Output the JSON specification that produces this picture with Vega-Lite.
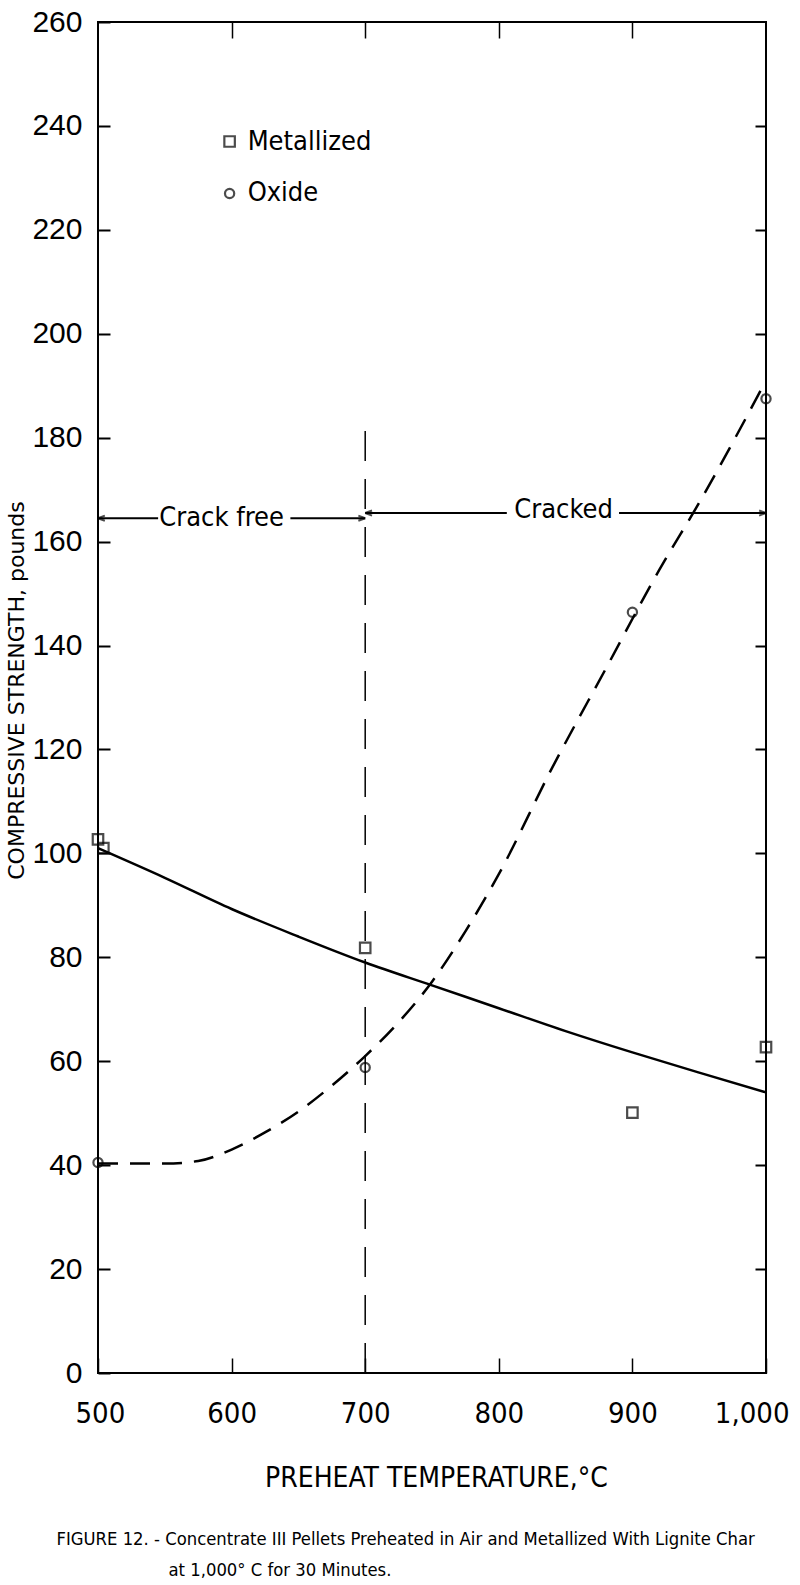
{
  "$schema": "https://vega.github.io/schema/vega-lite/v6.json",
  "width": 668,
  "height": 1351,
  "autosize": "none",
  "padding": {"left": 98, "top": 22, "right": 34, "bottom": 212},
  "background": "white",
  "config": {
    "view": {"stroke": "black", "strokeWidth": 2},
    "axis": {"domainColor": "black", "tickColor": "black", "labelColor": "black", "titleColor": "black", "grid": false}
  },
  "layer": [
    {
      "data": {"values": [
        {"t": 500, "s": 101}, {"t": 550, "s": 95.3}, {"t": 600, "s": 89.3}, {"t": 650, "s": 84},
        {"t": 700, "s": 79}, {"t": 750, "s": 74.6}, {"t": 800, "s": 70.2}, {"t": 850, "s": 65.8},
        {"t": 900, "s": 61.7}, {"t": 950, "s": 57.8}, {"t": 1000, "s": 54}
      ]},
      "mark": {"type": "line", "color": "black", "strokeWidth": 2.5, "interpolate": "monotone"},
      "encoding": {
        "x": {"field": "t", "type": "quantitative", "scale": {"domain": [500, 1000], "nice": false, "zero": false},
          "axis": {"orient": "bottom", "values": [500, 600, 700, 800, 900, 1000], "format": ",.0f", "tickSize": -15, "tickWidth": 1.5,
            "domain": false, "labelFlush": true, "labelFlushOffset": 23, "labelOverlap": false,
            "labelFont": "Liberation Sans Narrow, DejaVu Sans Condensed, sans-serif", "labelFontSize": 29, "labelPadding": 41,
            "title": "PREHEAT TEMPERATURE,°C", "titleFont": "Liberation Sans Narrow, DejaVu Sans Condensed, sans-serif",
            "titleFontSize": 28, "titleFontWeight": "normal", "titleX": 338, "titleY": 91, "titleBaseline": "top"}},
        "y": {"field": "s", "type": "quantitative", "scale": {"domain": [0, 260], "nice": false},
          "axis": {"orient": "left", "values": [0, 20, 40, 60, 80, 100, 120, 140, 160, 180, 200, 220, 240, 260], "tickSize": -12, "tickWidth": 2,
            "domain": false, "labelFlush": false, "labelOverlap": false,
            "labelFont": "Liberation Sans, Arial, sans-serif", "labelFontSize": 30, "labelPadding": 28,
            "title": "COMPRESSIVE STRENGTH, pounds", "titleFont": "DejaVu Sans", "titleFontSize": 22, "titleFontWeight": "normal",
            "titleX": -75, "titleY": 668, "titleBaseline": "alphabetic"}}
      }
    },
    {
      "data": {"values": [
        {"t": 500, "s": 40.3}, {"t": 550, "s": 40.3}, {"t": 575, "s": 40.8}, {"t": 600, "s": 43}, {"t": 625, "s": 46.3},
        {"t": 650, "s": 50.3}, {"t": 675, "s": 55.3}, {"t": 700, "s": 61}, {"t": 725, "s": 67.5}, {"t": 750, "s": 75.3},
        {"t": 775, "s": 85}, {"t": 800, "s": 96}, {"t": 840, "s": 116.5}, {"t": 880, "s": 135.5}, {"t": 920, "s": 154.5},
        {"t": 950, "s": 167.5}, {"t": 1000, "s": 191}
      ]},
      "mark": {"type": "line", "color": "black", "strokeWidth": 2.5, "interpolate": "monotone", "strokeDash": [20, 12]},
      "encoding": {
        "x": {"field": "t", "type": "quantitative", "scale": {"domain": [500, 1000], "nice": false, "zero": false},
          "axis": {"orient": "top", "values": [600, 700, 800, 900], "labels": false, "tickSize": -16, "tickWidth": 1.5, "domain": false,
            "title": "FIGURE 12. - Concentrate III Pellets Preheated in Air and Metallized With Lignite Char",
            "titleFont": "Liberation Sans Narrow, DejaVu Sans Condensed, sans-serif", "titleFontSize": 18.3, "titleFontWeight": "normal",
            "titleX": -42, "titleY": 1522, "titleAlign": "left", "titleBaseline": "alphabetic", "titleAngle": 0}},
        "y": {"field": "s", "type": "quantitative", "scale": {"domain": [0, 260], "nice": false},
          "axis": {"orient": "right", "values": [20, 40, 60, 80, 100, 120, 140, 160, 180, 200, 220, 240], "labels": false, "tickSize": -11, "tickWidth": 2, "domain": false,
            "title": "at 1,000° C for 30 Minutes.",
            "titleFont": "Liberation Sans Narrow, DejaVu Sans Condensed, sans-serif", "titleFontSize": 18.3, "titleFontWeight": "normal",
            "titleX": -598, "titleY": 1553, "titleAlign": "left", "titleBaseline": "alphabetic", "titleAngle": 0}}
      }
    },
    {
      "data": {"values": [{"t": 700, "a": 0, "b": 182}]},
      "mark": {"type": "rule", "color": "black", "strokeWidth": 1.5, "strokeDash": [30, 18]},
      "encoding": {
        "x": {"field": "t", "type": "quantitative", "axis": null},
        "y": {"field": "a", "type": "quantitative", "axis": null},
        "y2": {"field": "b"}
      }
    },
    {
      "data": {"values": [
        {"a": 500, "b": 545, "y": 164.5}, {"a": 644, "b": 700, "y": 164.5},
        {"a": 700, "b": 806, "y": 165.5}, {"a": 890, "b": 1000, "y": 165.5}
      ]},
      "mark": {"type": "rule", "color": "black", "strokeWidth": 2},
      "encoding": {
        "x": {"field": "a", "type": "quantitative", "axis": null},
        "x2": {"field": "b"},
        "y": {"field": "y", "type": "quantitative", "axis": null}
      }
    },
    {
      "data": {"values": [{"t": 500, "y": 164.5}, {"t": 700, "y": 165.5}]},
      "mark": {"type": "point", "shape": "M0,0L1.2,-0.45M0,0L1.2,0.45", "filled": false, "color": "black", "strokeWidth": 2, "size": 130},
      "encoding": {
        "x": {"field": "t", "type": "quantitative", "axis": null},
        "y": {"field": "y", "type": "quantitative", "axis": null}
      }
    },
    {
      "data": {"values": [{"t": 700, "y": 164.5}, {"t": 1000, "y": 165.5}]},
      "mark": {"type": "point", "shape": "M0,0L-1.2,-0.45M0,0L-1.2,0.45", "filled": false, "color": "black", "strokeWidth": 2, "size": 130},
      "encoding": {
        "x": {"field": "t", "type": "quantitative", "axis": null},
        "y": {"field": "y", "type": "quantitative", "axis": null}
      }
    },
    {
      "data": {"values": [{"t": 592.5, "y": 164.5, "label": "Crack free"}, {"t": 848.5, "y": 166, "label": "Cracked"}]},
      "mark": {"type": "text", "color": "black", "font": "Liberation Sans Narrow, DejaVu Sans Condensed, sans-serif", "fontSize": 27, "align": "center", "baseline": "middle"},
      "encoding": {
        "x": {"field": "t", "type": "quantitative", "axis": null},
        "y": {"field": "y", "type": "quantitative", "axis": null},
        "text": {"field": "label"}
      }
    },
    {
      "data": {"values": [
        {"t": 500, "v": 102.7}, {"t": 504, "v": 101}, {"t": 700, "v": 81.8}, {"t": 900, "v": 50.1}, {"t": 1000, "v": 62.7},
        {"t": 598.5, "v": 237}
      ]},
      "mark": {"type": "point", "shape": "square", "filled": false, "color": "black", "strokeWidth": 2.2, "size": 110},
      "encoding": {
        "x": {"field": "t", "type": "quantitative", "axis": null},
        "y": {"field": "v", "type": "quantitative", "axis": null}
      }
    },
    {
      "data": {"values": [
        {"t": 500, "v": 40.5}, {"t": 700, "v": 58.8}, {"t": 900, "v": 146.4}, {"t": 1000, "v": 187.5},
        {"t": 598.5, "v": 227}
      ]},
      "mark": {"type": "point", "shape": "circle", "filled": false, "color": "black", "strokeWidth": 2.2, "size": 85},
      "encoding": {
        "x": {"field": "t", "type": "quantitative", "axis": null},
        "y": {"field": "v", "type": "quantitative", "axis": null}
      }
    },
    {
      "data": {"values": [{"t": 612, "v": 237, "label": "Metallized"}, {"t": 612, "v": 227, "label": "Oxide"}]},
      "mark": {"type": "text", "color": "black", "font": "Liberation Sans Narrow, DejaVu Sans Condensed, sans-serif", "fontSize": 27, "align": "left", "baseline": "middle"},
      "encoding": {
        "x": {"field": "t", "type": "quantitative", "axis": null},
        "y": {"field": "v", "type": "quantitative", "axis": null},
        "text": {"field": "label"}
      }
    }
  ]
}
